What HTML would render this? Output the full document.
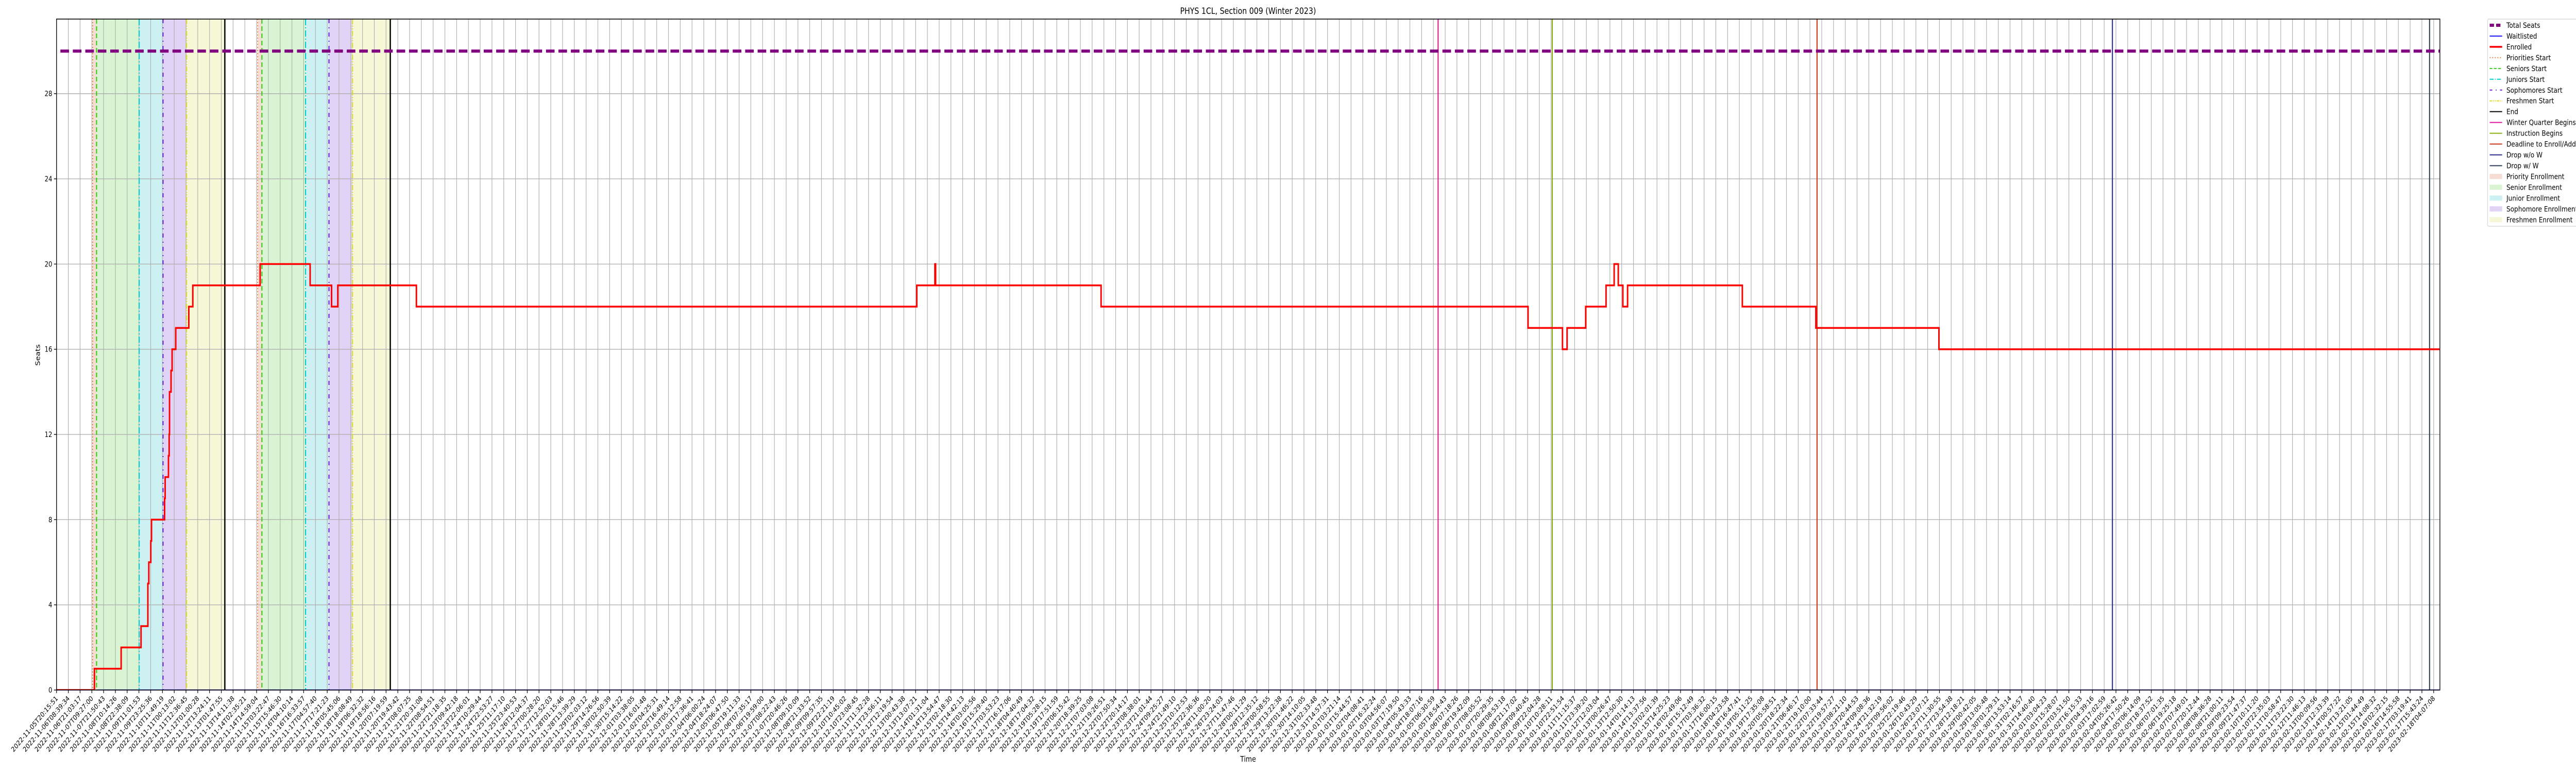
<!DOCTYPE html>
<html><head><meta charset="utf-8"><style>
html,body{margin:0;padding:0;background:#fff;overflow:hidden;width:100vw;height:100vh;}
svg{display:block;width:100vw;height:100vh;font-family:"DejaVu Sans","Liberation Sans",sans-serif;}
</style></head><body>
<svg id="chart" viewBox="0 0 6000 1500" preserveAspectRatio="none" xmlns="http://www.w3.org/2000/svg">
<defs><clipPath id="clip"><rect x="131.7" y="37" width="5551.3" height="1302"/></clipPath></defs>
<rect x="0" y="0" width="6000" height="1500" fill="#fff"/>
<text x="2907" y="27" font-size="17" text-anchor="middle">PHYS 1CL, Section 009 (Winter 2023)</text>
<g id="bands" clip-path="url(#clip)"></g>
<g id="grid" clip-path="url(#clip)"></g>
<g id="vlines" clip-path="url(#clip)"></g>
<g id="series" clip-path="url(#clip)"></g>
<rect x="131.7" y="37" width="5551.3" height="1302" fill="none" stroke="#000" stroke-width="1.6"/>
<g id="yaxis"></g>
<g id="xaxis"></g>
<text x="2907" y="1478" font-size="15" text-anchor="middle">Time</text>
<text x="0" y="0" font-size="15" text-anchor="middle" transform="translate(93,689) rotate(-90)">Seats</text>
<g id="legend"></g>
</svg>
<script>
// ---- data ----
const startTime = "2022-11-05T20:15:51";
const endTime = "2023-02-18T04:07:08";
const tickCount = 203;
const yTicks = [0, 4, 8, 12, 16, 20, 24, 28];
const totalSeats = 30;
const enrolledU = [0, 3.22, 5.49, 7.18, 7.76, 7.84, 8.01, 8.07, 9.18, 9.23, 9.51, 9.57, 9.60, 9.73, 9.82, 10.13, 11.24, 11.58, 17.30, 21.55, 23.37, 23.90, 30.58, 73.1, 74.64, 74.70, 88.76, 125.04, 127.97, 128.36, 129.94, 131.67, 132.36, 132.71, 133.1, 133.5, 143.25, 149.5, 159.96];
const enrolledV = [0, 1, 2, 3, 5, 6, 7, 8, 9, 10, 11, 12, 14, 15, 16, 17, 18, 19, 20, 19, 18, 19, 18, 19, 20, 19, 18, 17, 16, 17, 18, 19, 20, 19, 18, 19, 18, 17, 16];
const waitlistStart = 3.40;
const waitlistValue = 0;
const prioritiesStart = [3.06, 17.09];
const seniorsStart = [3.40, 17.45];
const juniorsStart = [7.02, 21.16];
const sophomoresStart = [9.05, 23.15];
const freshmenStart = [11.05, 25.15];
const endEvents = [14.30, 28.36];
const quarterEvents = [117.4, 127.1, 149.6, 174.7, 201.65]; // winter begins, instruction, deadline, drop w/o W, drop w/ W

// ---- scales ----
const X0 = 131.7, XSTEP = 27.41, XMAXU = 202.54, Y0 = 1339, YUNIT = 41.33;
const xs = u => X0 + u * XSTEP;
const ys = v => Y0 - v * YUNIT;
const NS = "http://www.w3.org/2000/svg";
function mk(tag, attrs, parent) {
  const e = document.createElementNS(NS, tag);
  for (const k in attrs) e.setAttribute(k, attrs[k]);
  parent.appendChild(e);
  return e;
}
const G = id => document.getElementById(id);

// bands
const bandSpec = [
  [prioritiesStart, seniorsStart, "#f5ddd3", "priority-band"],
  [seniorsStart, juniorsStart, "#d9f4d2", "senior-band"],
  [juniorsStart, sophomoresStart, "#cdf0f2", "junior-band"],
  [sophomoresStart, freshmenStart, "#e0d3f5", "sophomore-band"],
  [freshmenStart, endEvents, "#f6f7d6", "freshman-band"]
];
bandSpec.forEach(b => {
  for (let i = 0; i < b[0].length; i++) {
    const r = mk("rect", {x: xs(b[0][i]), y: 37, width: xs(b[1][i]) - xs(b[0][i]), height: 1302, fill: b[2]}, G("bands"));
    
    
  }
});

// grid + ticks
const t0 = new Date(startTime + "Z").getTime(), t1 = new Date(endTime + "Z").getTime();
const tickLabels = [];
for (let i = 0; i < tickCount; i++) {
  const d = new Date(t0 + (t1 - t0) * i / (tickCount - 1));
  tickLabels.push(d.toISOString().slice(0, 19));
}
tickLabels.forEach((lab, i) => {
  const x = xs(i);
  const gl = mk("line", {x1: x, x2: x, y1: 37, y2: 1339, stroke: "#b0b0b0", "stroke-width": 1.4}, G("grid"));
  
  
  const tk = mk("line", {x1: x, x2: x, y1: 1339, y2: 1345, stroke: "#000", "stroke-width": 1.4}, G("xaxis"));
  
  
  const t = mk("text", {x: 0, y: 0, "font-size": 13.5, "text-anchor": "end", transform: `translate(${x + 4},${1356}) rotate(-45)`}, G("xaxis"));
  t.textContent = lab;
  
  
});
yTicks.forEach(v => {
  const y = ys(v);
  const gl = mk("line", {x1: X0, x2: 5683, y1: y, y2: y, stroke: "#b0b0b0", "stroke-width": 1.4}, G("grid"));
  
  
  const tk = mk("line", {x1: X0 - 6, x2: X0, y1: y, y2: y, stroke: "#000", "stroke-width": 1.4}, G("yaxis"));
  
  
  const t = mk("text", {x: X0 - 10, y: y + 5, "font-size": 14, "text-anchor": "end"}, G("yaxis"));
  t.textContent = v;
  
  
});

// vertical event lines
function vline(u, color, w, dash, name) {
  const l = mk("line", {x1: xs(u), x2: xs(u), y1: 37, y2: 1339, stroke: color, "stroke-width": w}, G("vlines"));
  if (dash) l.setAttribute("stroke-dasharray", dash);
  
  
}
prioritiesStart.forEach(u => vline(u, "#f07030", 2, "2 4", "priorities-start-line"));
seniorsStart.forEach(u => vline(u, "#33cc11", 2.5, "9 5", "seniors-start-line"));
juniorsStart.forEach(u => vline(u, "#00cccc", 2.5, "12 4 2 4", "juniors-start-line"));
sophomoresStart.forEach(u => vline(u, "#6a1fd6", 2.5, "8 8 2 8", "sophomores-start-line"));
freshmenStart.forEach(u => vline(u, "#dddd22", 2.5, "10 3 2 3 2 3", "freshmen-start-line"));
endEvents.forEach(u => vline(u, "#000", 3, null, "end-line"));
const qColors = ["#e0129a", "#88b010", "#cc3311", "#2a2a8a", "#2e3a5a"];
const qNames = ["winter-quarter-begins-line", "instruction-begins-line", "deadline-enroll-line", "drop-without-w-line", "drop-with-w-line"];
quarterEvents.forEach((u, i) => vline(u, qColors[i], 2.5, null, qNames[i]));

// series
const ts = mk("line", {x1: X0, x2: 5683, y1: ys(totalSeats), y2: ys(totalSeats), stroke: "#800080", "stroke-width": 6, "stroke-dasharray": "20 9", "stroke-dashoffset": -9}, G("series"));


const wl = mk("line", {x1: xs(waitlistStart), x2: 5683, y1: ys(waitlistValue), y2: ys(waitlistValue), stroke: "#1a1aff", "stroke-width": 2.2}, G("series"));


let d = "";
enrolledU.forEach((u, i) => {
  if (i === 0) d += `M${xs(u)},${ys(enrolledV[i])}`;
  else d += `H${xs(u)}V${ys(enrolledV[i])}`;
});
d += `H${xs(XMAXU)}`;
const en = mk("path", {d: d, fill: "none", stroke: "#ff0000", "stroke-width": 3.5, "stroke-linejoin": "miter"}, G("series"));



// legend
const Lg = G("legend");
mk("rect", {x: 5794, y: 37, width: 220, height: 402, rx: 3, fill: "#fff", stroke: "#d0d0d0", "stroke-width": 1.2}, Lg);
const legendItems = [
  ["Total Seats", "line", "#800080", 6, "10 5"],
  ["Waitlisted", "line", "#1a1aff", 2, null],
  ["Enrolled", "line", "#ff0000", 3.5, null],
  ["Priorities Start", "line", "#f07030", 2, "2 4"],
  ["Seniors Start", "line", "#33cc11", 2, "6 4"],
  ["Juniors Start", "line", "#00cccc", 2, "9 3 2 3"],
  ["Sophomores Start", "line", "#6a1fd6", 2, "6 8 2 8"],
  ["Freshmen Start", "line", "#dddd22", 2, "6 2 2 2 2 2"],
  ["End", "line", "#000", 2, null],
  ["Winter Quarter Begins", "line", "#e0129a", 2, null],
  ["Instruction Begins", "line", "#88b010", 2, null],
  ["Deadline to Enroll/Add", "line", "#cc3311", 2, null],
  ["Drop w/o W", "line", "#2a2a8a", 2, null],
  ["Drop w/ W", "line", "#2e3a5a", 2, null],
  ["Priority Enrollment", "patch", "#f5ddd3"],
  ["Senior Enrollment", "patch", "#d9f4d2"],
  ["Junior Enrollment", "patch", "#cdf0f2"],
  ["Sophomore Enrollment", "patch", "#e0d3f5"],
  ["Freshmen Enrollment", "patch", "#f6f7d6"]
];
legendItems.forEach((it, i) => {
  const cy = 49 + i * 20.96;
  const g = mk("g", {}, Lg);
  
  
  if (it[1] === "line") {
    const l = mk("line", {x1: 5799, x2: 5828, y1: cy, y2: cy, stroke: it[2], "stroke-width": it[3]}, g);
    if (it[4]) l.setAttribute("stroke-dasharray", it[4]);
  } else {
    mk("rect", {x: 5799, y: cy - 5, width: 29, height: 10, fill: it[2]}, g);
  }
  const t = mk("text", {x: 5838, y: cy + 5, "font-size": 14.5}, g);
  t.textContent = it[0];
});
</script>
</body></html>
